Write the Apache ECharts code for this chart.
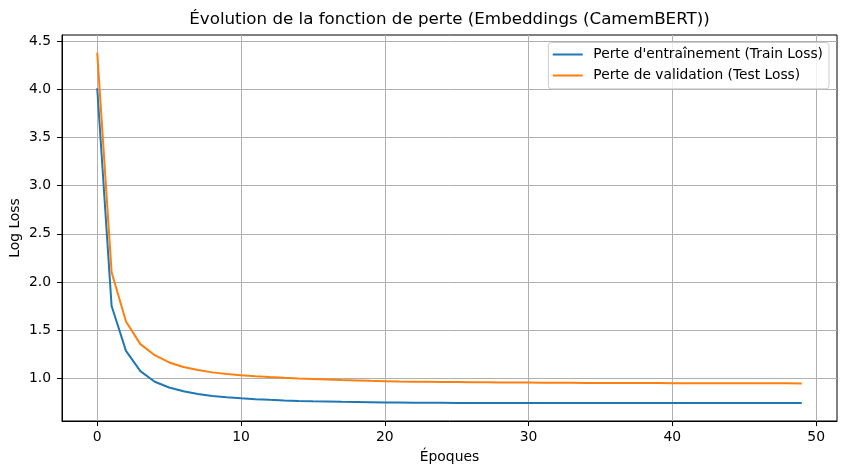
<!DOCTYPE html>
<html>
<head>
<meta charset="utf-8">
<script src="https://cdn.jsdelivr.net/npm/echarts@6/dist/echarts.min.js"></script>
<style>html,body{margin:0;padding:0;background:#fff}#c{width:846px;height:475px}</style>
</head>
<body>
<div id="c"></div>
<script>
const trainLoss = [4.01, 1.75, 1.285, 1.075, 0.965, 0.905, 0.866, 0.838, 0.818, 0.804,
  0.793, 0.784, 0.777, 0.771, 0.766, 0.762, 0.759, 0.756, 0.754, 0.752,
  0.750, 0.749, 0.748, 0.747, 0.746, 0.745, 0.745, 0.744, 0.744, 0.743,
  0.743, 0.743, 0.743, 0.743, 0.743, 0.743, 0.743, 0.743, 0.743, 0.743,
  0.743, 0.743, 0.743, 0.743, 0.743, 0.743, 0.743, 0.743, 0.743, 0.743];
const testLoss = [4.38, 2.10, 1.59, 1.355, 1.24, 1.165, 1.118, 1.086, 1.062, 1.046,
  1.033, 1.022, 1.013, 1.005, 0.998, 0.992, 0.987, 0.982, 0.978, 0.974,
  0.971, 0.968, 0.966, 0.964, 0.962, 0.961, 0.960, 0.959, 0.958, 0.957,
  0.956, 0.955, 0.954, 0.954, 0.953, 0.953, 0.952, 0.952, 0.951, 0.951,
  0.950, 0.950, 0.950, 0.949, 0.949, 0.949, 0.948, 0.948, 0.948, 0.947];
const epochs = trainLoss.map((_, i) => i);
const xTicks = [0, 10, 20, 30, 40, 50];
const yTicks = [1.0, 1.5, 2.0, 2.5, 3.0, 3.5, 4.0, 4.5];
const seriesNames = ["Perte d'entraînement (Train Loss)", "Perte de validation (Test Loss)"];
const titleText = "Évolution de la fonction de perte (Embeddings (CamemBERT))";
const xName = "Époques";
const yName = "Log Loss";

const font = 'DejaVu Sans';
const fs = 13.9;
const chart = echarts.init(document.getElementById('c'), null, {renderer: 'canvas'});
chart.setOption({
  animation: false,
  backgroundColor: '#fff',
  title: {
    text: titleText, left: 449.5, top: 11, textAlign: 'center', padding: 0,
    textStyle: {fontFamily: font, fontSize: 16.7, fontWeight: 'normal', color: '#000'}
  },
  grid: {left: 62, right: 9, top: 35, bottom: 54, show: true, borderColor: '#000', borderWidth: 1,
    backgroundColor: 'transparent', containLabel: false, outerBoundsMode: 'none'},
  legend: {
    orient: 'vertical', right: 17, top: 42.5,
    itemWidth: 30, itemHeight: 2, itemGap: 7, icon: 'rect',
    padding: [5, 6, 6.3, 4.4],
    backgroundColor: 'rgba(255,255,255,0.8)', borderColor: '#cccccc', borderWidth: 1, borderRadius: 3,
    textStyle: {fontFamily: font, fontSize: 13.8, color: '#000', padding: [0,0,0,5.6]},
    data: seriesNames
  },
  xAxis: {
    type: 'value', min: -2.45, max: 51.45,
    name: xName, nameLocation: 'middle', nameGap: 29, nameMoveOverlap: false,
    nameTextStyle: {fontFamily: font, fontSize: fs, color: '#000'},
    axisLine: {show: true, onZero: false, lineStyle: {color: '#000', width: 1}},
    axisTick: {show: true, inside: false, length: 5, customValues: xTicks, lineStyle: {color: '#000'}},
    axisLabel: {customValues: xTicks, fontFamily: font, fontSize: fs, color: '#000', margin: 9},
    splitLine: {show: true, customValues: xTicks, lineStyle: {color: '#b0b0b0', width: 1}}
  },
  yAxis: {
    type: 'value', min: 0.5575, max: 4.5625,
    name: yName, nameLocation: 'middle', nameGap: 40, nameRotate: 90, nameMoveOverlap: false,
    nameTextStyle: {fontFamily: font, fontSize: fs, color: '#000'},
    axisLine: {show: true, onZero: false, lineStyle: {color: '#000', width: 1}},
    axisTick: {show: true, inside: false, length: 5, customValues: yTicks, lineStyle: {color: '#000'}},
    axisLabel: {customValues: yTicks, fontFamily: font, fontSize: fs, color: '#000', margin: 11,
      formatter: v => v.toFixed(1)},
    splitLine: {show: true, customValues: yTicks, lineStyle: {color: '#b0b0b0', width: 1}}
  },
  series: [
    {name: seriesNames[0], type: 'line', data: epochs.map((e, i) => [e, trainLoss[i]]),
     showSymbol: false, symbol: 'none', lineStyle: {color: '#1f77b4', width: 2}, itemStyle: {color: '#1f77b4'}},
    {name: seriesNames[1], type: 'line', data: epochs.map((e, i) => [e, testLoss[i]]),
     showSymbol: false, symbol: 'none', lineStyle: {color: '#ff7f0e', width: 2}, itemStyle: {color: '#ff7f0e'}}
  ]
});
</script>
</body>
</html>
